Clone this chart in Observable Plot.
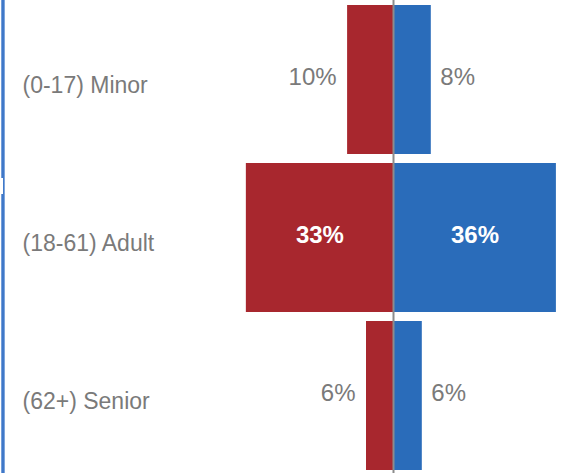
<!DOCTYPE html>
<html>
<head>
<meta charset="utf-8">
<script src="https://cdn.jsdelivr.net/npm/d3@7"></script>
<script src="https://cdn.jsdelivr.net/npm/@observablehq/plot@0.6"></script>
<style>
  html, body { margin: 0; padding: 0; background: #fff; overflow: hidden; }
  #wrap { position: relative; width: 569px; height: 473px; }
  #edge { position: absolute; left: 1px; top: 0; width: 4px; height: 473px;
          background: linear-gradient(to right, #8fb2e3, #3a74c6 40%, #3a74c6 60%, #9dbde8); }
  #notch { position: absolute; left: 0; top: 178px; width: 3px; height: 16px; background: #fff; }
</style>
</head>
<body>
<div id="wrap"><div id="chart"></div><div id="edge"></div><div id="notch"></div></div>
<script>
const categories = ["(0-17) Minor", "(18-61) Adult", "(62+) Senior"];
const leftValues = [0.102, 0.327, 0.060];
const rightValues = [0.084, 0.362, 0.064];
const leftColor = "#a8272e";
const rightColor = "#2a6cba";

const left = categories.map((c, i) => ({cat: c, value: leftValues[i]}));
const right = categories.map((c, i) => ({cat: c, value: rightValues[i]}));
const fmt = d3.format(".0%");
const big = d => d.value > 0.2;
const small = d => d.value <= 0.2;

const chart = Plot.plot({
  width: 569,
  height: 475,
  marginTop: 0,
  marginBottom: 0,
  marginLeft: 0,
  marginRight: 0,
  x: {domain: [-0.4, 0.4], range: [213, 573], axis: null},
  y: {domain: categories, paddingInner: 0.054, paddingOuter: 0.025, axis: null},
  style: {fontFamily: "'Liberation Sans', Arial, sans-serif", background: "#fff"},
  marks: [
    Plot.barX(left, {y: "cat", x1: 0, x2: d => -d.value, fill: leftColor}),
    Plot.barX(right, {y: "cat", x1: 0, x2: d => d.value, fill: rightColor}),
    Plot.ruleX([0], {stroke: "#8c8c8c", strokeWidth: 2}),
    Plot.text(left.filter(small), {y: "cat", x: d => -d.value, text: d => fmt(d.value), textAnchor: "end", dx: -11, dy: -3, fill: "#7a7a7a", fontSize: 24}),
    Plot.text(right.filter(small), {y: "cat", x: d => d.value, text: d => fmt(d.value), textAnchor: "start", dx: 9, dy: -3, fill: "#7a7a7a", fontSize: 24}),
    Plot.text(left.filter(big), {y: "cat", x: d => -d.value / 2, text: d => fmt(d.value), fill: "#fff", fontWeight: "bold", fontSize: 24, dy: -3}),
    Plot.text(right.filter(big), {y: "cat", x: d => d.value / 2, text: d => fmt(d.value), fill: "#fff", fontWeight: "bold", fontSize: 24, dy: -3}),
    Plot.text(categories, {y: d => d, frameAnchor: "left", dx: 22, dy: 6, textAnchor: "start", fill: "#7a7a7a", fontSize: 23})
  ]
});
document.getElementById("chart").appendChild(chart);
</script>
</body>
</html>
